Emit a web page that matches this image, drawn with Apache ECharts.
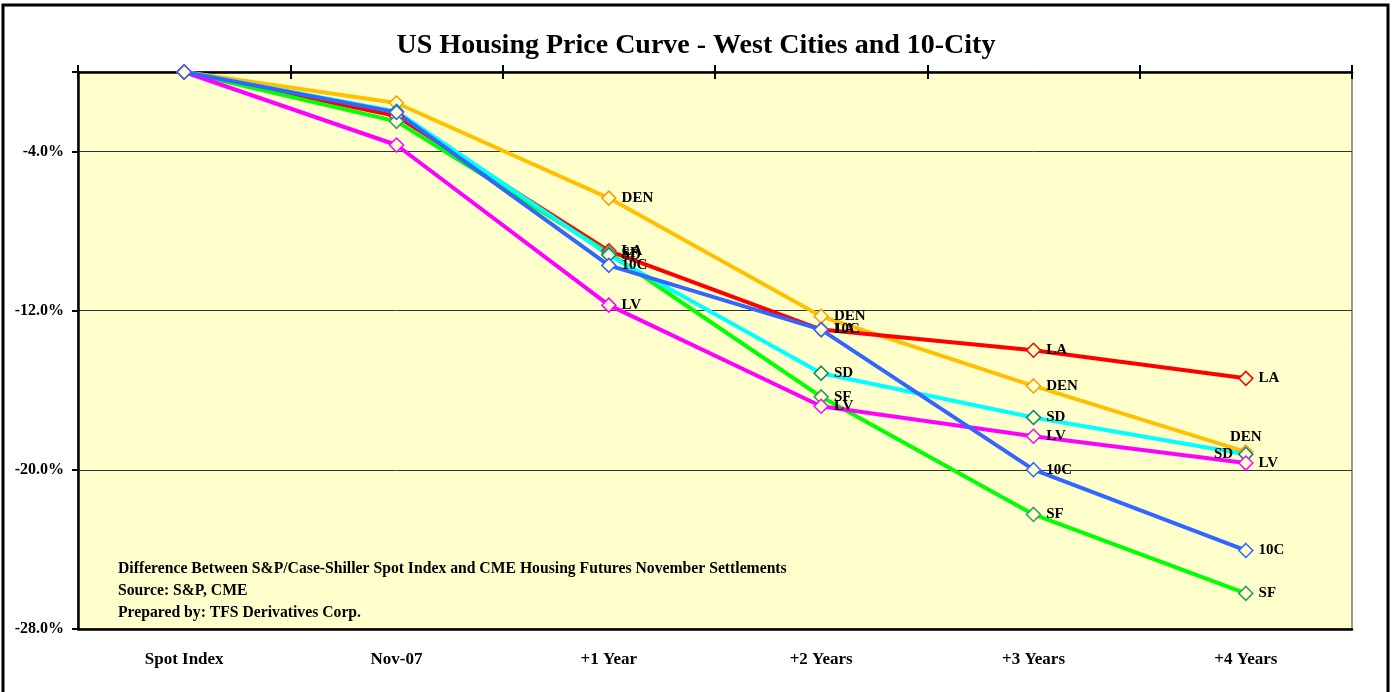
<!DOCTYPE html>
<html>
	<head>
		<meta charset="utf-8">
		<title>US Housing Price Curve</title>
		<script type="text/javascript" src="https://cdn.jsdelivr.net/npm/echarts@6/dist/echarts.min.js"></script>
		<style>
			html, body { margin: 0; padding: 0; background: #fff; }
		</style>
	</head>
	<body>
		<div id="main" style="width: 1392px;height:692px;"></div>
	</body>
	<script type="text/javascript">
		// categories and series values (percent difference from spot)
		var categories = ['Spot Index', 'Nov-07', '+1 Year', '+2 Years', '+3 Years', '+4 Years'];
		var yTicks = [-28, -20, -12, -4];

		var DEN = [0, -1.56, -6.34, -12.28, -15.78, -19.10];
		var LA  = [0, -2.22, -8.99, -12.95, -13.99, -15.40];
		var SD  = [0, -1.98, -9.20, -15.14, -17.37, -19.22];
		var SF  = [0, -2.48, -9.10, -16.33, -22.24, -26.21];
		var LV  = [0, -3.67, -11.72, -16.80, -18.31, -19.66];
		var C10 = [0, -2.03, -9.72, -12.95, -19.99, -24.05];

		var seriesList = [
			{ name: 'DEN', data: DEN, line: '#FFC000', mark: '#FF9900' },
			{ name: 'LA',  data: LA,  line: '#FF0000', mark: '#FF0000' },
			{ name: 'SF',  data: SF,  line: '#00FF00', mark: '#339966' },
			{ name: 'SD',  data: SD,  line: '#00FFFF', mark: '#008080' },
			{ name: 'LV',  data: LV,  line: '#FF00FF', mark: '#FF00FF' },
			{ name: '10C', data: C10, line: '#3366FF', mark: '#3366FF' }
		];

		// a few labels sit on another side to dodge overlaps
		var labelSide = { 'SD': { 5: 'left' }, 'DEN': { 5: 'top' } };

		var serif = '"Liberation Serif", "DejaVu Serif", serif';
		var myChart = echarts.init(document.getElementById('main'));

		var series = seriesList.map(function (s) {
			return {
				name: s.name,
				type: 'line',
				symbol: 'diamond',
				symbolSize: 14,
				lineStyle: { color: s.line, width: 4 },
				itemStyle: { color: '#FFFFCC', borderColor: s.mark, borderWidth: 1.5 },
				emphasis: { disabled: true },
				data: s.data.map(function (v, i) {
					var side = (labelSide[s.name] && labelSide[s.name][i]) || 'right';
					return {
						value: v,
						label: {
							show: i >= 2,
							position: side,
							distance: side === 'top' ? 0 : 5,
							formatter: s.name,
							color: '#000',
							fontFamily: serif,
							fontWeight: 'bold',
							fontSize: 15
						}
					};
				})
			};
		});

		var tick = { show: true, interval: 0, length: 7, lineStyle: { color: '#000', width: 2 } };

		myChart.setOption({
			animation: false,
			backgroundColor: '#fff',
			title: {
				text: 'US Housing Price Curve - West Cities and 10-City',
				left: 'center',
				top: 27,
				textStyle: { fontFamily: serif, fontWeight: 'bold', fontSize: 28, color: '#000' }
			},
			grid: {
				left: 78, right: 40, top: 72, bottom: 63,
				show: true,
				backgroundColor: '#FFFFCC',
				borderColor: '#333',
				borderWidth: 1
			},
			xAxis: [
				{
					type: 'category', data: categories, position: 'top',
					axisLine: { onZero: false, lineStyle: { color: '#000', width: 2.5 } },
					axisTick: tick,
					axisLabel: { show: false }
				},
				{
					type: 'category', data: categories, position: 'top',
					axisLine: { show: false },
					axisTick: Object.assign({ inside: true }, tick),
					axisLabel: { show: false }
				},
				{
					type: 'category', data: categories, position: 'bottom',
					axisLine: { onZero: false, lineStyle: { color: '#000', width: 2.5 } },
					axisTick: { show: false },
					axisLabel: {
						margin: 22, color: '#000',
						fontFamily: serif, fontWeight: 'bold', fontSize: 17
					}
				}
			],
			yAxis: {
				type: 'value',
				min: yTicks[0], max: 0, interval: 8,
				axisLine: { show: true, lineStyle: { color: '#000', width: 2.5 } },
				axisTick: { show: true, length: 6, lineStyle: { color: '#000', width: 2 } },
				axisLabel: {
					margin: 14, color: '#000',
					fontFamily: serif, fontWeight: 'bold', fontSize: 16,
					formatter: function (v) {
						return yTicks.indexOf(v) >= 0 ? v.toFixed(1) + '%' : '';
					}
				},
				splitLine: { lineStyle: { color: '#333', width: 1 } }
			},
			graphic: [
				{
					type: 'rect', silent: true,
					shape: { x: 3, y: 5, width: 1385, height: 700 },
					style: { fill: 'none', stroke: '#000', lineWidth: 3 }
				},
				{
					type: 'text', left: 118, top: 558, silent: true,
					style: {
						text: 'Difference Between S&P/Case-Shiller Spot Index and CME Housing Futures November Settlements\nSource: S&P, CME\nPrepared by: TFS Derivatives Corp.',
						font: 'bold 15.7px ' + serif,
						lineHeight: 22,
						fill: '#000'
					}
				}
			],
			series: series
		});
	</script>
</html>
